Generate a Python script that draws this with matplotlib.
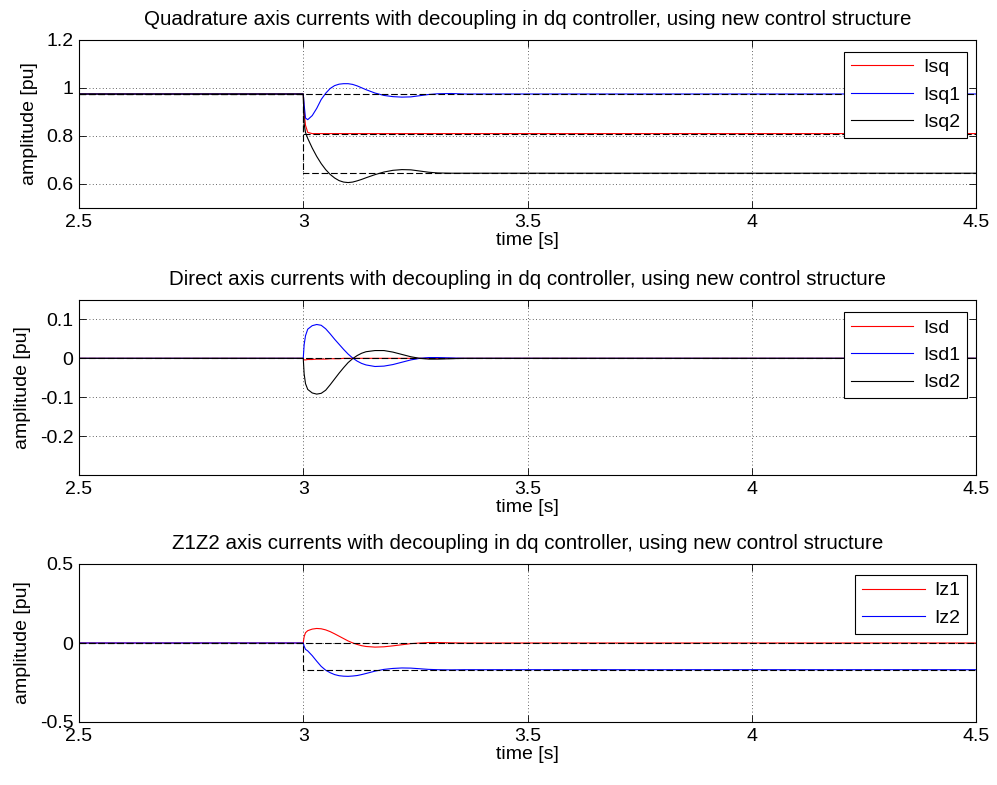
import matplotlib
matplotlib.use("Agg")
import matplotlib.pyplot as plt

plt.rcParams['font.family'] = ['Liberation Sans', 'DejaVu Sans']

# ---------------- data ----------------
t = [2.5, 3.0, 3.002, 3.005, 3.01, 3.02, 3.03, 3.04, 3.05, 3.06, 3.07, 3.08,
     3.09, 3.10, 3.11, 3.12, 3.13, 3.14, 3.16, 3.18, 3.20, 3.22, 3.24, 3.26,
     3.28, 3.30, 3.33, 3.36, 4.5]

# Quadrature axis
isq = [0.975, 0.975, 0.90, 0.845, 0.815, 0.810, 0.810, 0.810, 0.810, 0.810, 0.810, 0.810,
       0.810, 0.810, 0.810, 0.810, 0.810, 0.810, 0.810, 0.810, 0.810, 0.810, 0.810, 0.810,
       0.810, 0.810, 0.810, 0.810, 0.810]
isq1 = [0.975, 0.975, 0.930, 0.875, 0.868, 0.885, 0.915, 0.952, 0.978, 0.998, 1.010, 1.016,
        1.018, 1.018, 1.015, 1.009, 1.001, 0.993, 0.979, 0.969, 0.964, 0.962, 0.963, 0.968,
        0.973, 0.976, 0.977, 0.975, 0.975]
isq2 = [0.975, 0.975, 0.850, 0.815, 0.790, 0.750, 0.715, 0.685, 0.660, 0.640, 0.625, 0.614,
        0.608, 0.606, 0.608, 0.613, 0.619, 0.626, 0.639, 0.650, 0.657, 0.660, 0.659, 0.654,
        0.649, 0.646, 0.645, 0.645, 0.645]
ref_t = [2.5, 3.0, 3.0, 4.5]
isq_ref = [0.975, 0.975, 0.810, 0.810]
isq1_ref = [0.975, 0.975, 0.975, 0.975]
isq2_ref = [0.975, 0.975, 0.645, 0.645]

# Direct axis
isd = [0.0, 0.0, -0.004, -0.004, -0.003, -0.003, -0.002, -0.002, -0.002, -0.001, -0.001, -0.001,
       0.0, 0.0, 0.0, 0.0, 0.0, 0.0, 0.0, 0.0, 0.0, 0.0, 0.0, 0.0,
       0.0, 0.0, 0.0, 0.0, 0.0]
isd1 = [0.0, 0.0, 0.035, 0.058, 0.075, 0.084, 0.087, 0.085, 0.076, 0.063, 0.049, 0.036,
        0.023, 0.011, 0.001, -0.007, -0.013, -0.017, -0.021, -0.020, -0.016, -0.010, -0.004, 0.000,
        0.002, 0.002, 0.001, 0.0, 0.0]
isd2 = [0.0, 0.0, -0.040, -0.065, -0.080, -0.089, -0.092, -0.090, -0.082, -0.068, -0.053, -0.038,
        -0.024, -0.011, -0.001, 0.007, 0.013, 0.017, 0.020, 0.020, 0.016, 0.010, 0.004, 0.000,
        -0.002, -0.002, -0.001, 0.0, 0.0]
isd_ref = [0.0, 0.0, 0.0, 0.0]

# Z1Z2 axis
iz1 = [0.0, 0.0, 0.040, 0.065, 0.078, 0.088, 0.092, 0.090, 0.083, 0.072, 0.058, 0.043,
       0.028, 0.013, 0.001, -0.009, -0.017, -0.022, -0.026, -0.024, -0.018, -0.011, -0.004, 0.000,
       0.003, 0.003, 0.001, 0.0, 0.0]
iz2 = [0.0, 0.0, -0.020, -0.040, -0.050, -0.080, -0.115, -0.148, -0.172, -0.188, -0.200, -0.207,
       -0.210, -0.211, -0.209, -0.206, -0.200, -0.193, -0.178, -0.167, -0.161, -0.158, -0.159, -0.163,
       -0.167, -0.169, -0.170, -0.169, -0.169]
iz1_ref = [0.0, 0.0, 0.0, 0.0]
iz2_ref = [0.0, 0.0, -0.169, -0.169]

xticks = [2.5, 3, 3.5, 4, 4.5]
xticklabels = ['2.5', '3', '3.5', '4', '4.5']
yticks_q = [0.5, 0.6, 0.8, 1.0, 1.2]
yticklabels_q = ['', '0.6', '0.8', '1', '1.2']
yticks_d = [-0.2, -0.1, 0, 0.1]
yticklabels_d = ['-0.2', '-0.1', '0', '0.1']
yticks_z = [-0.5, 0, 0.5]
yticklabels_z = ['-0.5', '0', '0.5']

titles = ['Quadrature axis currents with decoupling in dq controller, using new control structure',
          'Direct axis currents with decoupling in dq controller, using new control structure',
          'Z1Z2 axis currents with decoupling in dq controller, using new control structure']

# ---------------- figure ----------------
fig = plt.figure(figsize=(9.97, 7.85), dpi=100)
W, H = 997, 785
def rect(x0, x1, ytop, ybot):
    return [x0 / W, 1 - ybot / H, (x1 - x0) / W, (ybot - ytop) / H]

ax1 = fig.add_axes(rect(79, 976, 40, 208))
ax2 = fig.add_axes(rect(79, 976, 300, 475))
ax3 = fig.add_axes(rect(79, 976, 564, 722))

FS = 14
TFS = 14.8
LW = 0.8
DASH = (6, 2.5)

def style(ax, yt, ytl, ylim, title):
    ax.set_xlim(2.5, 4.5)
    ax.set_ylim(*ylim)
    ax.set_xticks(xticks)
    ax.set_xticklabels(xticklabels)
    ax.set_yticks(yt)
    ax.set_yticklabels(ytl)
    ax.tick_params(direction='in', length=5, width=0.6, labelsize=FS, top=True, right=True,
                   labeltop=False, labelright=False, pad=4)
    ax.grid(True, linestyle=(0, (1, 3)), color='black', linewidth=0.6, alpha=0.8)
    for s in ax.spines.values():
        s.set_linewidth(0.8)
    ax.set_xlabel('time [s]', fontsize=FS, labelpad=1)
    ax.set_ylabel('amplitude [pu]', fontsize=FS, labelpad=6)
    ax.set_title(title, fontsize=TFS, pad=11)

def legend(ax, loc_anchor):
    leg = ax.legend(loc='upper right', bbox_to_anchor=loc_anchor, fontsize=FS, fancybox=False,
                    framealpha=1, edgecolor='black', handlelength=3.2, handletextpad=0.5,
                    labelspacing=0.5, borderpad=0.35, borderaxespad=0)
    leg.get_frame().set_linewidth(0.8)

# top
ax1.plot(t, isq, color='red', lw=LW, label='Isq')
ax1.plot(t, isq1, color='blue', lw=LW, label='Isq1')
ax1.plot(t, isq2, color='black', lw=LW, label='Isq2')
for r in (isq_ref, isq1_ref, isq2_ref):
    ax1.plot(ref_t, r, color='black', lw=LW, dashes=DASH)
style(ax1, yticks_q, yticklabels_q, (0.5, 1.2), titles[0])
legend(ax1, (0.99, 0.93))

# middle
ax2.plot(t, isd, color='red', lw=LW, label='Isd')
ax2.plot(t, isd1, color='blue', lw=LW, label='Isd1')
ax2.plot(t, isd2, color='black', lw=LW, label='Isd2')
ax2.plot(ref_t, isd_ref, color='black', lw=LW, dashes=DASH)
style(ax2, yticks_d, yticklabels_d, (-0.3, 0.15), titles[1])
legend(ax2, (0.99, 0.93))

# bottom
ax3.plot(t, iz1, color='red', lw=LW, label='Iz1')
ax3.plot(t, iz2, color='blue', lw=LW, label='Iz2')
ax3.plot(ref_t, iz1_ref, color='black', lw=LW, dashes=DASH)
ax3.plot(ref_t, iz2_ref, color='black', lw=LW, dashes=DASH)
style(ax3, yticks_z, yticklabels_z, (-0.5, 0.5), titles[2])
legend(ax3, (0.99, 0.93))

fig.savefig('out.png', dpi=100)
